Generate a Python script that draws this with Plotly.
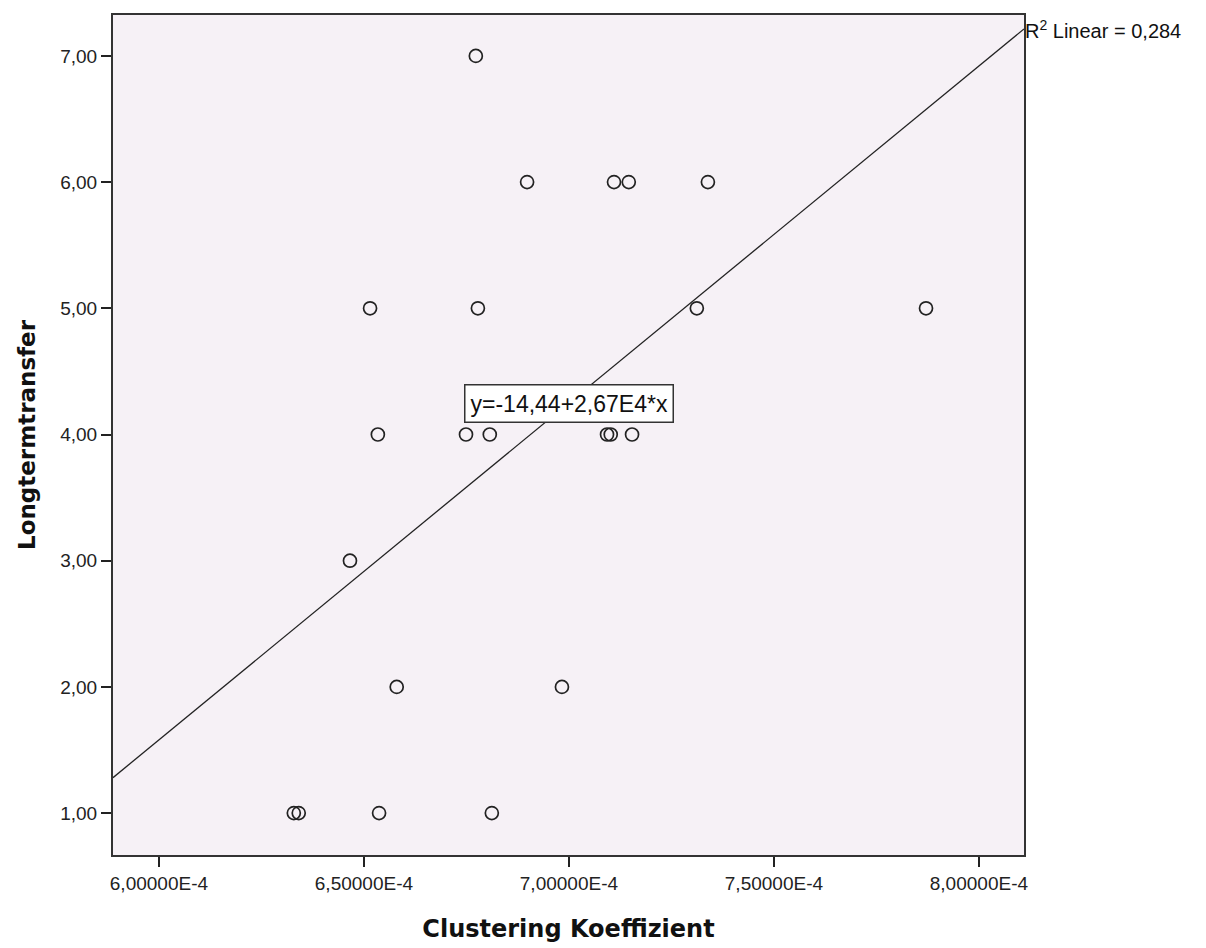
import plotly.graph_objects as go

# Data
clustering = [6.773e-4,
              6.898e-4, 7.110e-4, 7.146e-4, 7.339e-4,
              6.515e-4, 6.778e-4, 7.312e-4, 7.871e-4,
              6.534e-4, 6.749e-4, 6.807e-4, 7.093e-4, 7.102e-4, 7.154e-4,
              6.466e-4,
              6.580e-4, 6.983e-4,
              6.329e-4, 6.341e-4, 6.537e-4, 6.812e-4]
longterm = [7,
            6, 6, 6, 6,
            5, 5, 5, 5,
            4, 4, 4, 4, 4, 4,
            3,
            2, 2,
            1, 1, 1, 1]

fit_intercept = -14.44
fit_slope = 2.67e4
r2_text = "R<sup>2</sup> Linear = 0,284"
eq_text = "y=-14,44+2,67E4*x"

x_range = [5.888e-4, 8.11e-4]
y_range = [0.668, 7.324]

x_tickvals = [6.0e-4, 6.5e-4, 7.0e-4, 7.5e-4, 8.0e-4]
x_ticktext = ["6,00000E-4", "6,50000E-4", "7,00000E-4", "7,50000E-4", "8,00000E-4"]
y_tickvals = [1, 2, 3, 4, 5, 6, 7]
y_ticktext = ["1,00", "2,00", "3,00", "4,00", "5,00", "6,00", "7,00"]

fit_x = x_range
fit_y = [fit_intercept + fit_slope * v for v in fit_x]

fig = go.Figure()
fig.add_trace(go.Scatter(x=fit_x, y=fit_y, mode="lines",
                         line=dict(color="#222222", width=1.3),
                         hoverinfo="skip", showlegend=False))
fig.add_trace(go.Scatter(x=clustering, y=longterm, mode="markers",
                         marker=dict(symbol="circle-open", size=13,
                                     color="#222222", line=dict(width=1.7)),
                         showlegend=False))

fig.add_annotation(x=7.0e-4, y=4.245, text=eq_text, showarrow=False,
                   font=dict(family="Arial", size=23, color="#111111"),
                   bgcolor="white", bordercolor="#333333", borderwidth=1.5,
                   borderpad=5)
fig.add_annotation(x=x_range[1], y=fit_y[1], text=r2_text, showarrow=False,
                   xanchor="left", yanchor="middle", xshift=-1, yshift=-1,
                   font=dict(family="Arial", size=20, color="#111111"))

axis_common = dict(showgrid=False, zeroline=False, showline=True,
                   linecolor="#333333", linewidth=2, mirror=True,
                   ticks="outside", ticklen=10, tickwidth=1.5, tickcolor="#222222",
                   tickfont=dict(family="Arial", size=19, color="#222222"))

fig.update_xaxes(range=x_range, tickvals=x_tickvals, ticktext=x_ticktext,
                 title=dict(text="Clustering Koeffizient", standoff=27,
                            font=dict(family="DejaVu Sans", size=24, color="#111111",
                                      weight="bold")),
                 **axis_common)
fig.update_yaxes(range=y_range, tickvals=y_tickvals, ticktext=y_ticktext,
                 title=dict(text="Longtermtransfer", standoff=18,
                            font=dict(family="DejaVu Sans", size=23, color="#111111",
                                      weight="bold")),
                 **axis_common)

fig.update_layout(width=1190, height=935,
                  margin=dict(l=105, r=174, t=5, b=81),
                  plot_bgcolor="#F6F1F6", paper_bgcolor="white",
                  showlegend=False)

fig.write_html("out.html")
